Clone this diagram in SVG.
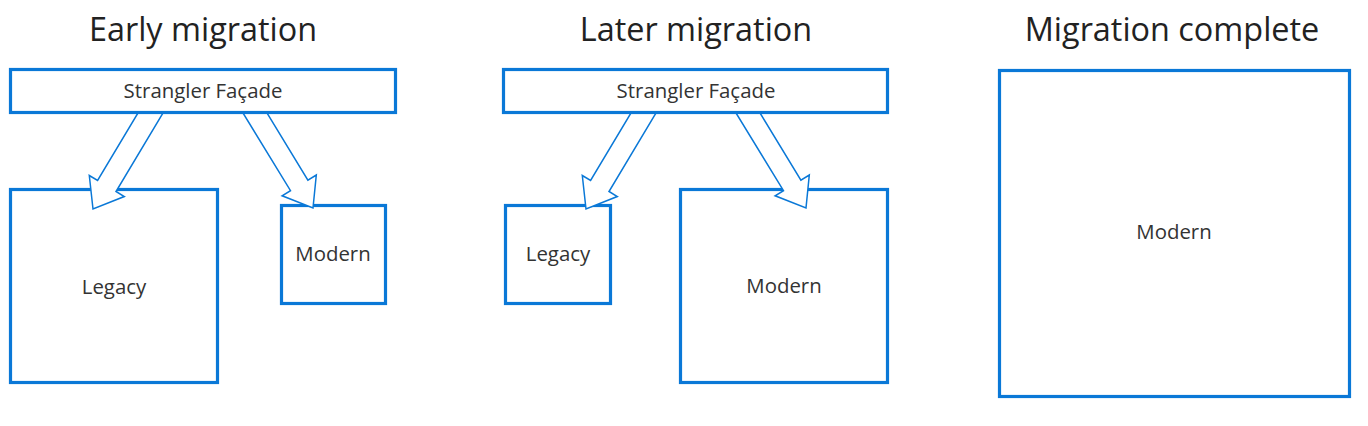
<svg xmlns="http://www.w3.org/2000/svg" width="1368" height="426" viewBox="0 0 1368 426">
<style>
.box{fill:#fff;stroke:#0A78D7;stroke-width:3.2}
.arrow{fill:#fff;stroke:#0A78D7;stroke-width:1.5;stroke-linejoin:miter}
.title{font-family:"Open Sans","Noto Sans",sans-serif;font-size:32.4px;fill:#222;text-anchor:middle}
.lbl{font-family:"Open Sans","Noto Sans",sans-serif;font-size:20.4px;fill:#333;text-anchor:middle}
</style>
<rect width="1368" height="426" fill="#fff"/>
<g id="titles">
<text class="title" x="203" y="41">Early migration</text>
<text class="title" x="696" y="41">Later migration</text>
<text class="title" x="1172" y="41">Migration complete</text>
</g>
<g id="early-legacy"><rect class="box" x="10.5" y="189.5" width="207" height="193"/><text class="lbl" x="114" y="294">Legacy</text></g>
<g id="early-modern"><rect class="box" x="281.5" y="205.5" width="104" height="98"/><text class="lbl" x="333" y="261">Modern</text></g>
<g id="later-legacy"><rect class="box" x="505.5" y="205.5" width="105" height="98"/><text class="lbl" x="558" y="261">Legacy</text></g>
<g id="later-modern"><rect class="box" x="680.5" y="189.5" width="207" height="193"/><text class="lbl" x="784" y="293">Modern</text></g>
<g id="complete-modern"><rect class="box" x="999.5" y="70.5" width="350" height="326"/><text class="lbl" x="1174" y="239">Modern</text></g>
<g id="connectors">
<polygon class="arrow" points="167.4,105.6 116.0,191.5 124.3,196.5 93,209 89.3,175.5 97.6,180.5 149.0,94.6"/>
<polygon class="arrow" points="256.0,94.9 307.9,180.1 316.3,175.0 313,208 282.1,195.8 290.5,190.7 238.4,105.5"/>
<polygon class="arrow" points="660.4,105.6 609.0,191.5 617.3,196.5 586,209 582.3,175.5 590.6,180.5 642.0,94.6"/>
<polygon class="arrow" points="749.0,94.9 800.9,180.1 809.3,175.0 806,208 775.1,195.8 783.5,190.7 731.4,105.5"/>
</g>
<g id="early-facade"><rect class="box" x="10.5" y="69.5" width="385" height="43"/><text class="lbl" x="203" y="98">Strangler Façade</text></g>
<g id="later-facade"><rect class="box" x="503.5" y="69.5" width="384" height="43"/><text class="lbl" x="696" y="98">Strangler Façade</text></g>
</svg>
